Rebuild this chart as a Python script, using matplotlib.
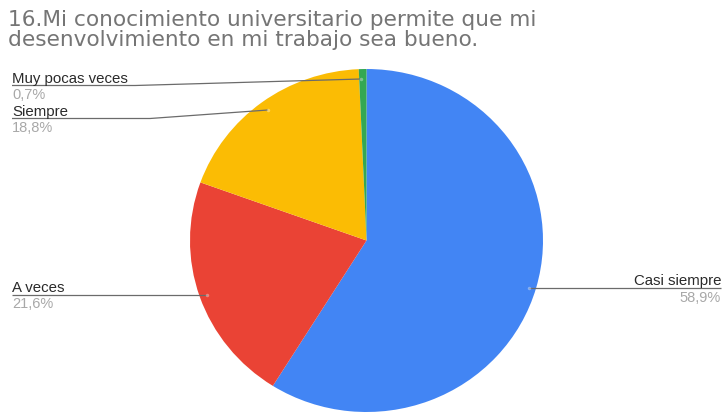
import matplotlib
matplotlib.use("Agg")
import matplotlib.pyplot as plt

# Survey answers
categories = ["Casi siempre", "A veces", "Siempre", "Muy pocas veces"]
values = [58.9, 21.6, 18.8, 0.7]
pct_labels = ["58,9%", "21,6%", "18,8%", "0,7%"]
colors = ["#4285F4", "#EA4335", "#FBBC04", "#34A853"]

title_lines = ["16.Mi conocimiento universitario permite que mi",
               "desenvolvimiento en mi trabajo sea bueno."]

W, H = 724, 416
fig = plt.figure(figsize=(W / 100, H / 100), dpi=100)
plt.rcParams["font.family"] = ["Liberation Sans", "DejaVu Sans"]

# Pie geometry in pixels
cx, cy, rx, ry = 366.5, 240.5, 176.5, 171.5

ax = fig.add_axes([0, 0, 1, 1])
ax.pie(values, colors=colors, startangle=90, counterclock=False,
       radius=1, wedgeprops=dict(linewidth=0))
ax.set_aspect("auto")
ax.set_xlim(-cx / rx, (W - cx) / rx)
ax.set_ylim(-(H - cy) / ry, cy / ry)
ax.axis("off")

# Overlay in pixel coordinates for title and leader labels
ov = fig.add_axes([0, 0, 1, 1], zorder=5)
ov.set_xlim(0, W)
ov.set_ylim(H, 0)
ov.axis("off")
ov.patch.set_alpha(0)

for i, line in enumerate(title_lines):
    ov.text(8, 26 + 20 * i, line, fontsize=15.6, color="#757575",
            ha="left", va="baseline", family=["DejaVu Sans"])

line_color = "#6b6b6b"
label_color = "#2a2a2a"
pct_color = "#a8a8a8"
fs = 10.8

# Leader layout: label x, line y, path points, alignment
leaders = {
    "Muy pocas veces": dict(x=12, ly=85.5, path=[(12, 85.5), (135, 85.5), (361, 79)], ha="left"),
    "Siempre": dict(x=12, ly=118.5, path=[(12, 118.5), (150, 118.5), (268, 110)], ha="left"),
    "A veces": dict(x=12, ly=294.5, path=[(12, 294.5), (207, 294.5)], ha="left"),
    "Casi siempre": dict(x=721, ly=288, path=[(529, 288), (721, 288)], ha="right"),
}

for cat, pct in zip(categories, pct_labels):
    d = leaders[cat]
    xs = [p[0] for p in d["path"]]
    ys = [p[1] for p in d["path"]]
    ov.plot(xs, ys, color=line_color, linewidth=0.9, solid_capstyle="butt")
    end = d["path"][-1] if d["ha"] == "left" else d["path"][0]
    ov.plot(end[0], end[1], "o", markersize=2.5, color="white", alpha=0.35,
            markeredgewidth=0)
    ov.text(d["x"], d["ly"] - 2.5, cat, fontsize=fs, color=label_color,
            ha=d["ha"], va="baseline")
    ov.text(d["x"], d["ly"] + 2.5, pct, fontsize=fs - 0.3, color=pct_color,
            ha=d["ha"], va="top")

fig.savefig("out.png", dpi=100)
